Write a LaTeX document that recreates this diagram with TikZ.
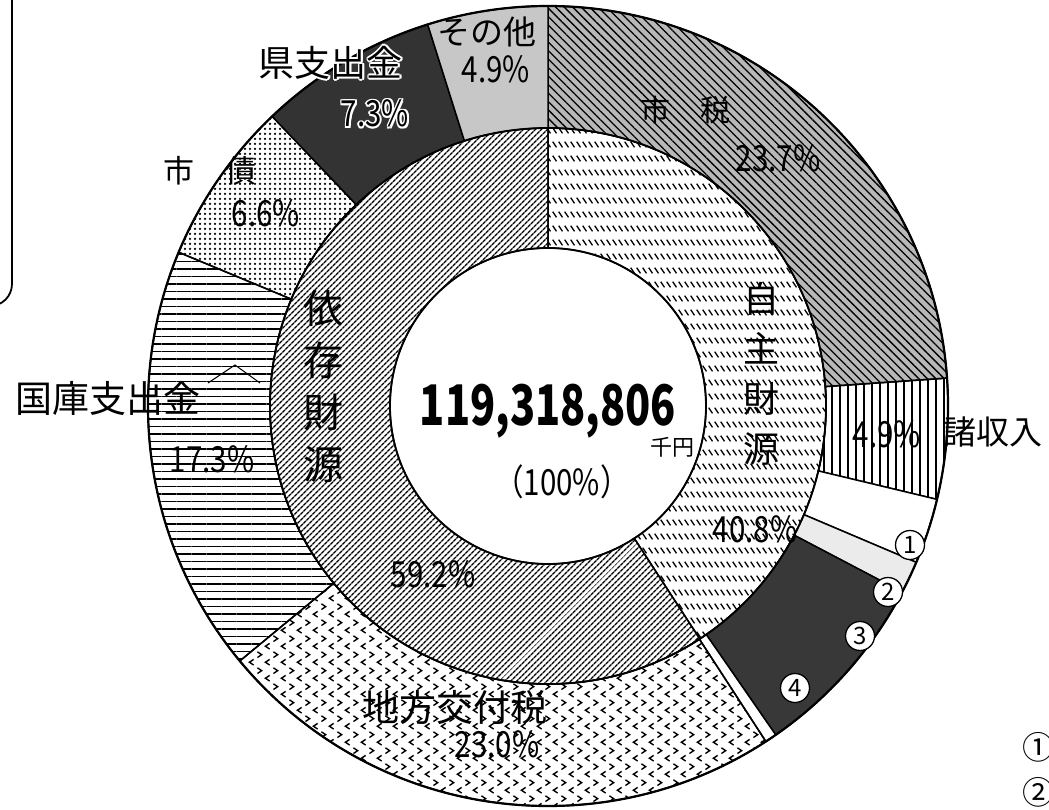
\documentclass[tikz,border=0pt]{standalone}
\usepackage{fontspec}
\setmainfont{Noto Sans CJK JP}
\usepackage{graphicx}
\usetikzlibrary{patterns,patterns.meta}

\tikzdeclarepattern{
  name=dashrows, type=uncolored,
  bounding box={(0pt,0pt) and (6pt,14pt)},
  tile size={(6pt,14pt)},
  code={\draw[line width=1.5pt] (0.8pt,11pt) -- (5.2pt,5pt);}
}
\tikzdeclarepattern{
  name=chevrons, type=uncolored,
  bounding box={(0pt,0pt) and (16pt,16pt)},
  tile size={(16pt,16pt)},
  code={
    \draw[line width=1.5pt] (1.5pt,15pt) -- (6pt,12pt) -- (1.5pt,9pt);
    \draw[line width=1.5pt] (14.5pt,7pt) -- (10pt,4pt) -- (14.5pt,1pt);
  }
}

\newcommand{\fsz}[1]{\fontsize{#1}{#1}\selectfont}
\newcommand{\pct}[1]{\scalebox{0.82}[1]{#1}}
\newcommand{\ringseg}[5]{%
  \path[#5] (#1:#3pt) arc[start angle=#1, end angle=#2, radius=#3pt]
    -- (#2:#4pt) arc[start angle=#2, end angle=#1, radius=#4pt] -- cycle;}
\newcommand{\halotext}[4]{%
  \foreach \hx/\hy in {1.7/0,-1.7/0,0/1.7,0/-1.7,1.2/1.2,1.2/-1.2,-1.2/1.2,-1.2/-1.2}{%
    \node[#3, text=white] at ([shift={(\hx pt,\hy pt)}]#2) {#4};}%
  \node[#3] (#1) at (#2) {#4};}

\begin{document}
\begin{tikzpicture}[x=1pt,y=1pt,
  seg/.style={draw=black, line width=1.5pt, line join=round},
  shizeiF/.style={seg, preaction={fill=black!28}, pattern={Lines[angle=-45,distance=6pt,line width=1.3pt]}},
  shoshuF/.style={seg, pattern={Lines[angle=90,distance=8pt,line width=1.6pt]}},
  whiteF/.style={seg, fill=white},
  lightF/.style={seg, fill=black!8},
  darkF/.style={seg, fill=black!78},
  chihoF/.style={seg, pattern=chevrons},
  kokkoF/.style={seg, pattern={Lines[angle=0,distance=7.5pt,line width=1.6pt]}},
  shisaiF/.style={seg, pattern={Dots[distance=5pt,radius=1.25pt]}},
  kenF/.style={seg, fill=black!80},
  sonotaF/.style={seg, fill=black!22},
  jishuF/.style={seg, pattern=dashrows},
  izonF/.style={seg, pattern={Lines[angle=45,distance=4pt,line width=1.5pt]}},
  jpS/.style={inner sep=0pt, anchor=center},
  pctS/.style={inner sep=0pt, anchor=base, font=\fsz{36}},
  bigS/.style={inner sep=0pt, anchor=base, font=\bfseries\fsz{56}},
  cnum/.style={circle, draw, fill=white, line width=1.3pt, inner sep=0pt, minimum size=29pt, font=\fsz{24}},
  legS/.style={anchor=west, inner sep=0pt, font=\fsz{32}}
]
\useasboundingbox (-548,-403) rectangle (501,406);
\fill[white] (-548,-403) rectangle (501,406);

% inner ring
\ringseg{-56.9}{90}{158}{278}{jishuF}
\ringseg{90}{303.1}{158}{278}{izonF}
% outer ring
\ringseg{4}{90}{278}{400}{shizeiF}
\ringseg{-13.5}{4}{278}{400}{shoshuF}
\ringseg{-23}{-13.5}{278}{400}{whiteF}
\ringseg{-27.7}{-23}{278}{400}{lightF}
\ringseg{-55.3}{-27.7}{278}{400}{darkF}
\ringseg{-57}{-55.3}{278}{400}{whiteF}
\ringseg{-140.4}{-57}{278}{400}{chihoF}
\ringseg{157.4}{219.6}{278}{400}{kokkoF}
\ringseg{133.6}{157.4}{278}{400}{shisaiF}
\ringseg{107.5}{133.6}{278}{400}{kenF}
\ringseg{90}{107.5}{278}{400}{sonotaF}

\draw[line width=2.2pt] (0,0) circle[radius=400pt];
\draw[line width=1.8pt] (0,0) circle[radius=278pt];
\draw[line width=1.8pt] (0,0) circle[radius=158pt];

% fragment of a frame at top left
\draw[line width=1.8pt, rounded corners=22pt] (-536,420) -- (-536,100) -- (-570,100);
% small caret mark
\draw[line width=1pt] (-340,23) -- (-313,41) -- (-288,23);

% labels
\node[jpS, font=\fsz{33}] (sonota) at (-61,374) {その他};
\node[pctS] (p49a) at (-52,323) {\pct{4.9\%}};
\halotext{ken}{-217,343}{jpS, font=\fsz{36}}{県支出金}
\halotext{p73}{-173,279}{pctS}{\pct{7.3\%}}
\node[jpS, font=\fsz{31}] (shisai) at (-338,235) {市　債};
\node[pctS] (p66) at (-282,179) {\pct{6.6\%}};
\node[jpS, font=\fsz{37}] (kokko) at (-440,8) {国庫支出金};
\node[pctS] (p173) at (-336,-66) {\pct{17.3\%}};
\node[jpS, font=\fontsize{40}{52}\selectfont, align=center] (izon) at (-224,20) {依\\存\\財\\源};
\node[jpS, font=\fontsize{36}{50}\selectfont, align=center] (jishu) at (213,32) {自\\主\\財\\源};
\node[bigS] (total) at (0,-19) {\scalebox{0.74}[1]{119,318,806}};
\node[jpS, font=\fsz{22}] (senen) at (124,-41) {千円};
\node[pctS] (p100) at (14,-89) {\pct{（100\%）}};
\node[pctS] (p592) at (-115,-181) {\pct{59.2\%}};
\node[pctS] (p408) at (207,-136) {\pct{40.8\%}};
\node[jpS, font=\fsz{30}] (shizei) at (137,296) {市　税};
\node[pctS] (p237) at (230,234) {\pct{23.7\%}};
\node[pctS] (p49b) at (339,-41) {\pct{4.9\%}};
\node[jpS, font=\fsz{33}] (shoshu) at (445,-26) {諸収入};
\node[jpS, font=\fsz{37}] (chiho) at (-93,-301) {地方交付税};
\node[pctS] (p230) at (-51,-351) {\pct{23.0\%}};

\node[cnum] (c1) at (362,-139) {1};
\node[cnum] (c2) at (340,-186) {2};
\node[cnum] (c3) at (312,-230) {3};
\node[cnum] (c4) at (247,-282) {4};

\node[legS] (leg1) at (474,-341) {①};
\node[legS] (leg2) at (474,-386) {②};
\end{tikzpicture}
\end{document}
